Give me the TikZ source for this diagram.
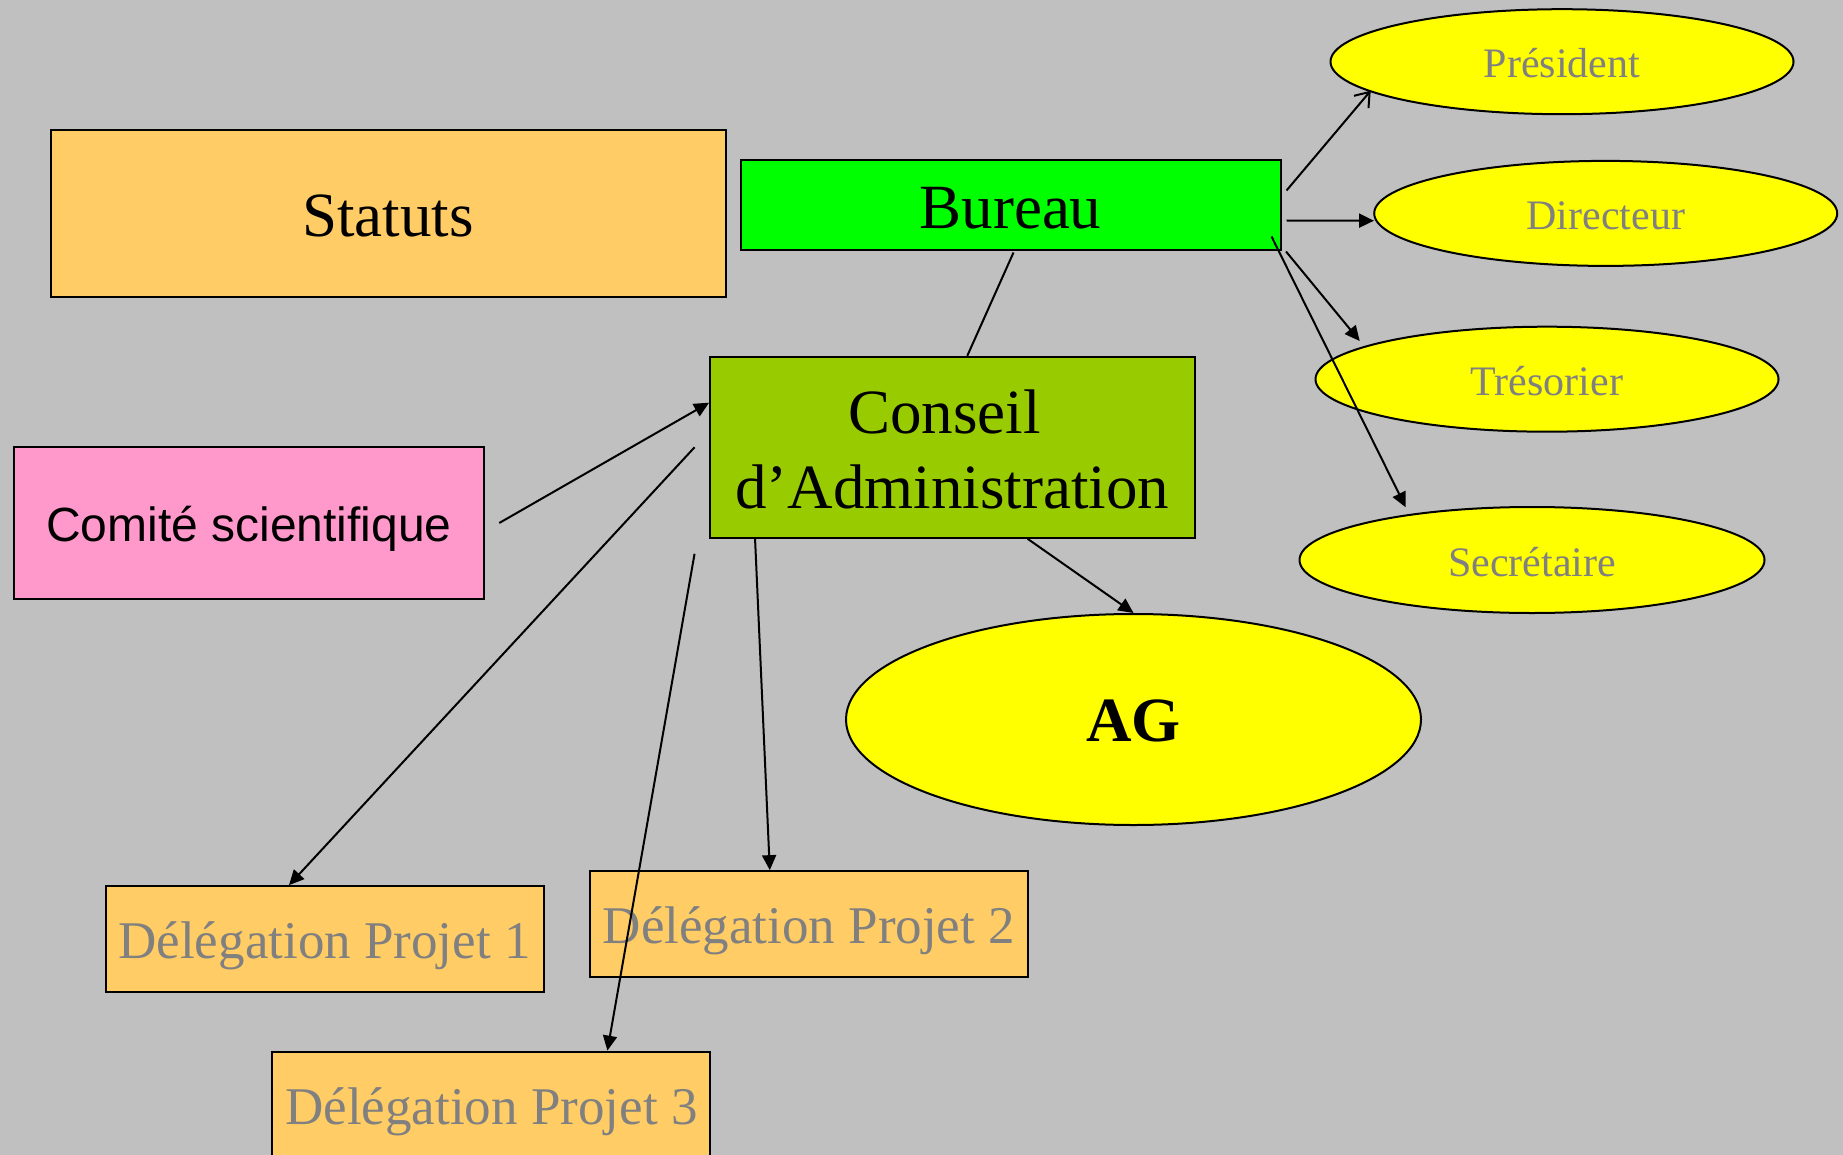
\documentclass[tikz,border=0pt]{standalone}
\usepackage{fontspec}
\setmainfont{Liberation Serif}
\newfontfamily\arialfam{Liberation Sans}
\usetikzlibrary{shapes.geometric,arrows.meta,calc}
\definecolor{fond}{HTML}{C0C0C0}
\definecolor{ocre}{HTML}{FFCC66}
\definecolor{vert}{HTML}{00FF00}
\definecolor{kaki}{HTML}{99CC00}
\definecolor{rose}{HTML}{FF99CC}
\definecolor{jaune}{HTML}{FFFF00}
\newcommand\grand{\fontsize{63}{75.6}\selectfont}
\newcommand\moyen{\fontsize{53}{62}\selectfont}
\newcommand\petit{\fontsize{42}{50}\selectfont}

\begin{document}
\begin{tikzpicture}[x=1pt,y=-1pt,
  boite/.style={draw,line width=2pt,rectangle,inner sep=0pt},
  delegation/.style={boite,fill=ocre,text=gray,font=\moyen,minimum width=438pt,minimum height=105.7pt,text height=39.8pt,text depth=0pt},
  ovale/.style={draw,line width=2pt,ellipse,fill=jaune,inner sep=0pt,text=gray,font=\petit,minimum width=463pt,minimum height=105pt,text height=32.5pt,text depth=0pt},
  lien/.style={line width=2pt},
  fleche/.style={line width=2pt,-{Triangle[length=15pt,width=14pt]}}]
\useasboundingbox (0,0) rectangle (1843,1155);
\clip (0,0) rectangle (1843,1155);
\fill[fond] (0,0) rectangle (1843,1155);

\node[boite,fill=ocre,font=\grand,minimum width=675pt,minimum height=166.5pt,text height=46.5pt,text depth=0pt] (statuts) at (388,213.3) {Statuts};
\node[boite,fill=vert,font=\grand,minimum width=540pt,minimum height=90pt,text height=46.5pt,text depth=0pt] (bureau) at (1010.5,205.5) {Bureau};
\node[boite,fill=kaki,font=\grand,align=center,minimum width=484.5pt,minimum height=181pt,text height=123pt,text depth=0pt] (conseil) at (952.3,447.3) {Conseil\hspace*{.25em}\\d’Administration};
\node[boite,fill=rose,font=\arialfam\fontsize{48}{58}\selectfont,minimum width=469.5pt,minimum height=152pt,text height=36.8pt,text depth=0pt] (comite) at (249,523) {Comité scientifique};

\node[ovale] (president) at (1562,61.7) {Président};
\node[ovale] (directeur) at (1605.7,213.4) {Directeur};
\node[ovale] (tresorier) at (1547,379.2) {Trésorier};
\node[ovale,minimum width=465pt,minimum height=106pt] (secretaire) at (1532,560) {Secrétaire};
\node[ovale,text=black,font=\grand\bfseries,minimum width=575pt,minimum height=211pt,text height=44pt] (ag) at (1133.5,719.5) {AG};

\node[delegation] (dp1) at (324.5,939) {Délégation Projet 1};
\node[delegation] (dp2) at (808.8,924) {Délégation Projet 2};
\node[delegation] (dp3) at (491.4,1104.5) {Délégation Projet 3};

\draw[lien] ($(bureau.south)+(3,1)$) -- ($(conseil.north)+(15,0)$);
\draw[lien,-{Straight Barb[length=13pt,width=19pt]}] ($(bureau.east)+(5,-15)$) -- ($(president.center)+(-191.3,29)$);
\draw[fleche] ($(bureau.east)+(5,15)$) -- ($(directeur.center)+(-231.7,7.3)$);
\draw[fleche] ($(bureau.south east)+(4.5,0)$) -- ($(tresorier.center)+(-187.3,-38.2)$);
\draw[fleche] ($(bureau.south east)+(-10,-15)$) -- ($(secretaire.center)+(-126.3,-52.7)$);
\draw[fleche] ($(comite.east)+(14.5,0)$) -- ($(conseil.west)+(0,-44.6)$);
\draw[fleche] ($(conseil.west)+(-14.5,0)$) -- ($(dp1.north)+(-35.5,0)$);
\draw[fleche] ($(conseil.south west)+(-14.5,15)$) -- ($(dp3.north east)+(-104,0)$);
\draw[fleche] ($(conseil.south west)+(46,0)$) -- ($(dp2.north west)+(181,0)$);
\draw[fleche] ($(conseil.south)+(75.3,0)$) -- (ag.north);
\end{tikzpicture}
\end{document}
